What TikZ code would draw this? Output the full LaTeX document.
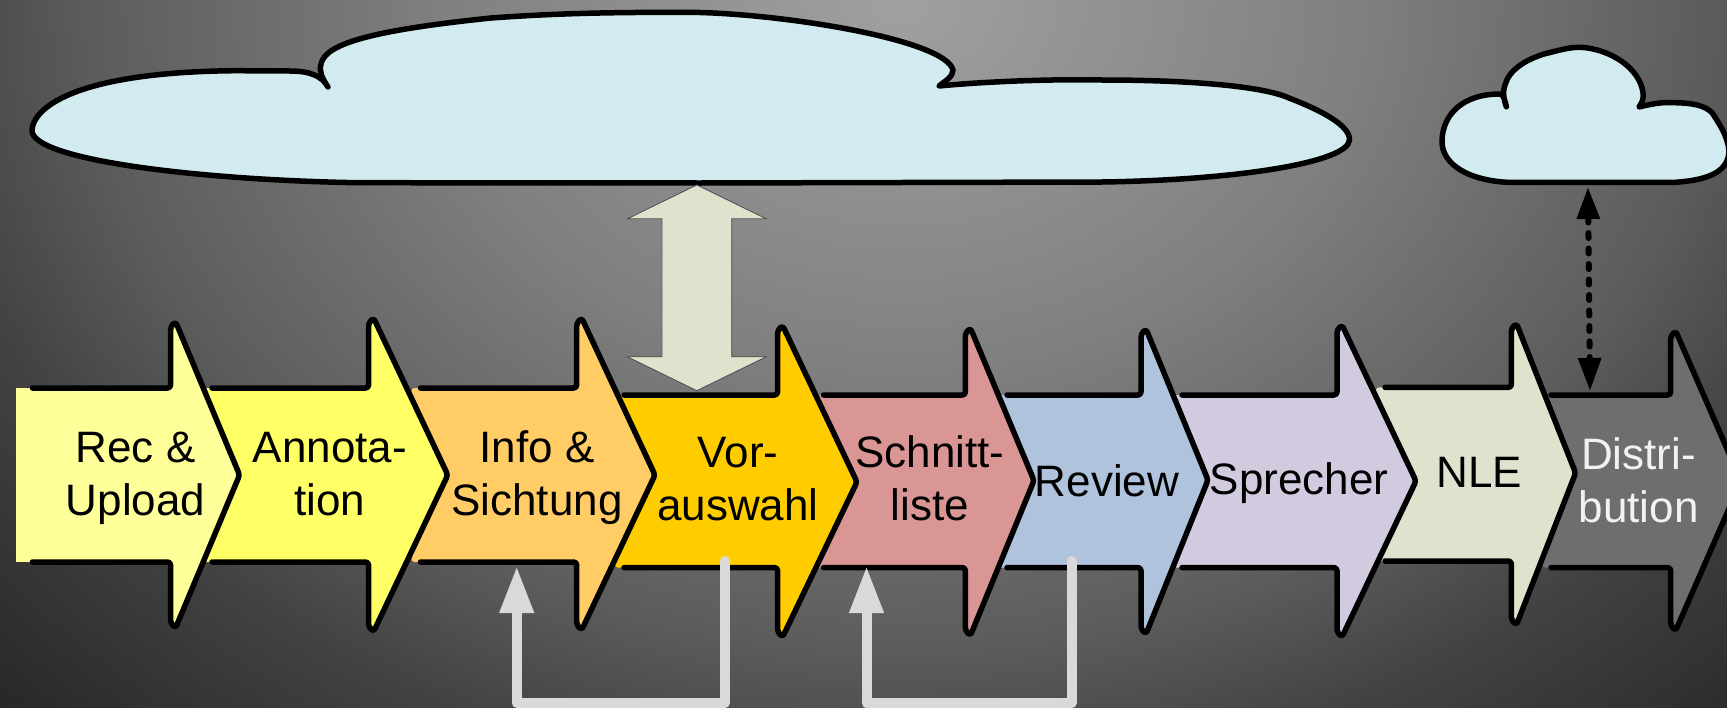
\documentclass[tikz,border=0pt]{standalone}
\usepackage{fontspec}
\setmainfont{Liberation Sans}
\usepackage{xcolor}
\usepackage{tikz}
\usetikzlibrary{shapes.arrows, arrows.meta}

\definecolor{recfill}{HTML}{FFFF99}
\definecolor{annofill}{HTML}{FFFF66}
\definecolor{infofill}{HTML}{FFCC66}
\definecolor{vorfill}{HTML}{FFCC00}
\definecolor{schnittfill}{HTML}{D99694}
\definecolor{reviewfill}{HTML}{B0C3DC}
\definecolor{sprecherfill}{HTML}{D2CBE0}
\definecolor{nlefill}{HTML}{DDE3CC}
\definecolor{distfill}{HTML}{6E6E6E}
\definecolor{cloudfill}{HTML}{D2EBF1}
\definecolor{loopgray}{HTML}{D9D9D9}

\tikzstyle{stageline} = [black, line width=5.5pt, line cap=round, line join=round, rounded corners=3pt]
\tikzstyle{stagetext} = [font=\fontsize{44}{53}\selectfont, align=center, inner sep=0pt, anchor=base]
\tikzstyle{cloud} = [draw=black, fill=cloudfill, line width=5.5pt, line join=round]
\tikzstyle{feedback} = [loopgray, line width=10pt, line cap=round, line join=round, -{Triangle[length=47pt,width=32pt]}]
\tikzstyle{datalink} = [black, line width=6pt, line cap=round, dash pattern=on 5pt off 10.5pt, {Triangle[length=32pt,width=22pt]}-{Triangle[length=33pt,width=22pt]}]
\tikzstyle{bigarrow} = [double arrow, draw=black!70, fill=nlefill, line width=0.8pt, inner xsep=0pt, inner ysep=34.5pt,
minimum height=205.7pt, minimum width=138pt, double arrow head extend=34.5pt, double arrow tip angle=128]

\pgfdeclareradialshading{bgglow}{\pgfpointorigin}{color(0bp)=(black!37!white); color(7.1bp)=(black!50!white); color(12.5bp)=(black!64!white); color(15.2bp)=(black!74!white); color(19.2bp)=(black!84!white); color(25bp)=(black!90!white); color(50bp)=(black!90!white)}

% fill, line start, neck, apex x, apex y, top, bottom, upper tip, lower tip
\newcommand{\stagearrow}[9]{
\fill [#1, rounded corners=3pt] (#2-6,#6) -- (#3,#6) -- (#3,#8+5) -- (#3+5,#8) -- (#4,#5) -- (#3+5,#9) -- (#3,#9-5) -- (#3,#7) -- (#2-6,#7) -- cycle;
\draw [stageline] (#2+3,#6) -- (#3,#6) -- (#3,#8+5) -- (#3+5,#8) -- (#4,#5) -- (#3+5,#9) -- (#3,#9-5) -- (#3,#7) -- (#2+3,#7);
}

\begin{document}
\begin{tikzpicture}[x=1pt,y=-1pt]
\useasboundingbox (0,0) rectangle (1727,707);
\clip (0,0) rectangle (1727,707);
\shade [shading=bgglow] (900,0) ellipse (1625 and 1300);

% clouds
\draw [cloud] (328,87) .. controls (322,78) and (319,72) .. (321,64)
.. controls (325,45) and (365,31) .. (491,18)
.. controls (560,13) and (620,12) .. (700,12.5)
.. controls (790,15) and (945,40) .. (953,70)
.. controls (953,77) and (945,81) .. (939,86)
.. controls (990,81) and (1060,79) .. (1102,80)
.. controls (1180,80) and (1260,85) .. (1289,98)
.. controls (1320,110) and (1350,125) .. (1349.5,140)
.. controls (1348,162) and (1240,180) .. (1102,182)
-- (700,183) -- (357,182.7)
.. controls (200,180) and (30,160) .. (32,130)
.. controls (33,110) and (70,72) .. (236,70.7)
-- (290,71) .. controls (310,71) and (322,76) .. (328,87) -- cycle;
\draw [cloud] (1506.4,106.8) .. controls (1503,98) and (1503,90) .. (1505,85)
.. controls (1509,70) and (1525,60) .. (1544,54)
.. controls (1560,50) and (1570,47) .. (1581,47.3)
.. controls (1610,49) and (1640,68) .. (1643,93)
.. controls (1644,98) and (1642,103) .. (1639,107)
.. controls (1655,103) and (1665,102) .. (1674,102.7)
.. controls (1695,103) and (1705,106) .. (1712,112.6)
.. controls (1720,125) and (1727,135) .. (1729,150)
.. controls (1729,170) and (1712,180) .. (1674,182.4)
-- (1510,182.4) .. controls (1470,181) and (1441,165) .. (1442,140)
.. controls (1443,115) and (1462,94) .. (1500,94)
.. controls (1503,94) and (1505,100) .. (1506.4,106.8) -- cycle;

% arrows, last one first
\stagearrow{distfill}{1548}{1670.7}{1741}{481}{395}{567.6}{331}{630.6}
\stagearrow{nlefill}{1382}{1511.4}{1575.6}{473}{387.4}{561}{323.4}{625}
\stagearrow{sprecherfill}{1179}{1337}{1416}{481}{395}{567.6}{325}{637}
\stagearrow{reviewfill}{1004}{1141}{1208}{480}{395}{567.6}{329}{634}
\stagearrow{schnittfill}{820.5}{965.4}{1034}{480.5}{395}{567.6}{328}{635.6}
\stagearrow{vorfill}{621}{777.6}{857}{482}{395}{567.6}{325.5}{637}
\stagearrow{infofill}{417.5}{576.7}{655}{475}{388}{562}{318}{630}
\stagearrow{annofill}{209}{368.6}{447.8}{475}{388}{562}{318}{631.7}
\fill [recfill] (15.5,388) rectangle (30,562);
\stagearrow{recfill}{29.4}{170.6}{239.6}{475}{388}{562}{321.7}{628}

% labels
\node (rec) [stagetext] at (135.5,515) {Rec \&\\Upload};
\node (anno) [stagetext] at (330,515) {Annota-\\tion};
\node (info) [stagetext] at (537,515) {Info \&\\Sichtung};
\node (vor) [stagetext] at (738,520) {Vor-\\auswahl};
\node (schnitt) [stagetext] at (930,520) {Schnitt-\\liste};
\node (review) [stagetext] at (1107,496) {Review};
\node (sprecher) [stagetext] at (1299,494) {Sprecher};
\node (nle) [stagetext] at (1479.5,487) {NLE};
\node (dist) [stagetext, text=white!95!black] at (1638.6,522) {Distri-\\bution};

% links between clouds and stages
\node (cloud_link) [bigarrow, rotate=90] at (696.8,287.8) {};

\coordinate (small_cloud_foot) at (1588,187);
\coordinate (dist_top) at (1590,391);
\draw [datalink] (small_cloud_foot) -- (dist_top);

% loops back
\coordinate (vor_out) at (724.7,561);
\coordinate (info_in) at (516.7,566);
\coordinate (review_out) at (1071.5,561);
\coordinate (schnitt_in) at (866.5,566);
\draw [feedback] (vor_out) -- ++(0,142) -| (info_in);
\draw [feedback] (review_out) -- ++(0,142) -| (schnitt_in);

\end{tikzpicture}
\end{document}
